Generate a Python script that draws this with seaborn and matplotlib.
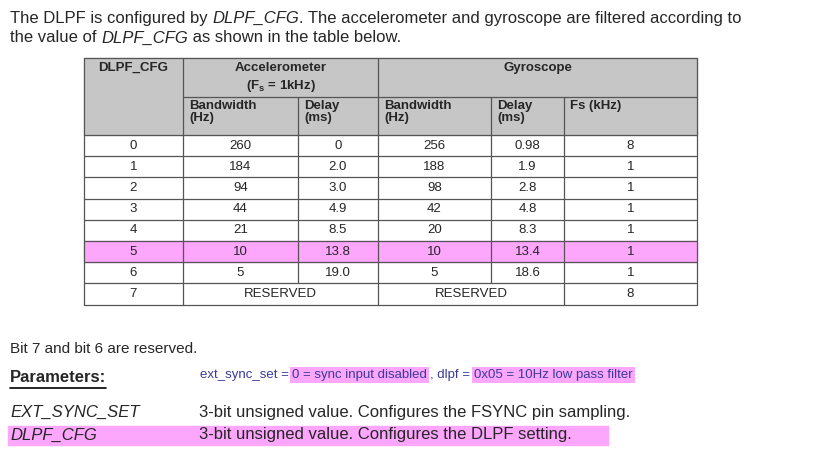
import matplotlib
matplotlib.use("Agg")
import matplotlib.pyplot as plt
import seaborn as sns

dlpf_cfg = ["0", "1", "2", "3", "4", "5", "6", "7"]
acc_bw = ["260", "184", "94", "44", "21", "10", "5", None]
acc_delay = ["0", "2.0", "3.0", "4.9", "8.5", "13.8", "19.0", None]
gyro_bw = ["256", "188", "98", "42", "20", "10", "5", None]
gyro_delay = ["0.98", "1.9", "2.8", "4.8", "8.3", "13.4", "18.6", None]
gyro_fs = ["8", "1", "1", "1", "1", "1", "1", "8"]
highlight_row = 5

sns.set_theme(style="white")
plt.rcParams['font.family'] = ['Liberation Sans', 'DejaVu Sans']

fig = plt.figure(figsize=(8.29, 4.53), dpi=100)
ax = fig.add_axes([0, 0, 1, 1])
ax.set_xlim(0, 829)
ax.set_ylim(453, 0)
ax.axis("off")

PINK = "#fca6fc"
GRAY = "#c6c6c6"
cols = [84, 183, 298, 378, 491, 564, 697]
top, mid, hdr = 58, 97, 135
rh = 21.2
bottom = hdr + rh * len(dlpf_cfg)

# intro text
ax.text(10, 20, "The DLPF is configured by ", fontsize=12, va="center")
intro1 = [("The DLPF is configured by ", "normal"), ("DLPF_CFG", "italic"),
          (". The accelerometer and gyroscope are filtered according to", "normal")]
intro2 = [("the value of ", "normal"), ("DLPF_CFG", "italic"), (" as shown in the table below.", "normal")]
ax.texts[0].remove()
fig.canvas.draw()
r = fig.canvas.get_renderer()
for y, parts in [(18, intro1), (38, intro2)]:
    x = 10
    for s, st in parts:
        t = ax.text(x, y, s, fontsize=12, style=st, va="center")
        bb = t.get_window_extent(r)
        x += bb.width

# header backgrounds
ax.add_patch(plt.Rectangle((cols[0], top), cols[-1] - cols[0], hdr - top, color=GRAY, zorder=0))
hy = hdr + rh * highlight_row
ax.add_patch(plt.Rectangle((cols[0], hy), cols[-1] - cols[0], rh, color=PINK, zorder=0))

lc = dict(color="#555555", lw=0.9)
ax.plot([cols[0], cols[-1]], [top, top], **lc)
ax.plot([cols[1], cols[-1]], [mid, mid], **lc)
for i in range(len(dlpf_cfg) + 1):
    y = hdr + rh * i
    ax.plot([cols[0], cols[-1]], [y, y], **lc)
ax.plot([cols[0], cols[0]], [top, bottom], **lc)
ax.plot([cols[-1], cols[-1]], [top, bottom], **lc)
ax.plot([cols[1], cols[1]], [top, bottom], **lc)
ax.plot([cols[3], cols[3]], [top, bottom], **lc)
for c in [cols[2], cols[4], cols[5]]:
    ax.plot([c, c], [mid, bottom - rh], **lc)
ax.plot([cols[5], cols[5]], [bottom - rh, bottom], **lc)

hf = dict(fontsize=9.5, weight="bold")
ax.text((cols[0] + cols[1]) / 2, 68, "DLPF_CFG", ha="center", va="center", **hf)
ax.text((cols[1] + cols[3]) / 2, 68, "Accelerometer", ha="center", va="center", **hf)
ax.text((cols[1] + cols[3]) / 2, 86, r"(F$_\mathregular{s}$ = 1kHz)", ha="center", va="center", **hf)
ax.text((cols[3] + cols[-1]) / 2, 68, "Gyroscope", ha="center", va="center", **hf)
for c, lab in zip(cols[1:6], ["Bandwidth\n(Hz)", "Delay\n(ms)", "Bandwidth\n(Hz)", "Delay\n(ms)", "Fs (kHz)"]):
    ax.text(c + 6, 100, lab, ha="left", va="top", linespacing=1.05, **hf)

cf = dict(fontsize=9.5, ha="center", va="center")
for i, cfg in enumerate(dlpf_cfg):
    y = hdr + rh * (i + 0.5)
    vals = [cfg, acc_bw[i], acc_delay[i], gyro_bw[i], gyro_delay[i], gyro_fs[i]]
    for j, v in enumerate(vals):
        if v is not None:
            ax.text((cols[j] + cols[j + 1]) / 2, y, v, **cf)
    if acc_bw[i] is None:
        ax.text((cols[1] + cols[3]) / 2, y, "RESERVED", **cf)
        ax.text((cols[3] + cols[5]) / 2, y, "RESERVED", **cf)

# bottom text
ax.text(10, 349, "Bit 7 and bit 6 are reserved.", fontsize=11, va="center")
t = ax.text(10, 378, "Parameters:", fontsize=12, weight="bold", va="center")
bb = t.get_window_extent(r)
ax.plot([10, 10 + bb.width], [388, 388], color="black", lw=1.2)

blue = "#3a3a9a"
x = 200
for s, hl in [("ext_sync_set = ", False), ("0 = sync input disabled", True), (", dlpf = ", False),
              ("0x05 = 10Hz low pass filter", True)]:
    t = ax.text(x, 375, s, fontsize=9.5, color=blue, va="center",
                bbox=dict(facecolor=PINK, edgecolor="none", pad=1.5) if hl else None)
    x += t.get_window_extent(r).width + (3 if hl else 0)

ax.add_patch(plt.Rectangle((8, 426), 600, 19, color=PINK, zorder=0))
ax.text(10, 412, "EXT_SYNC_SET", fontsize=12, style="italic", va="center")
ax.text(199, 412, "3-bit unsigned value. Configures the FSYNC pin sampling.", fontsize=12, va="center")
ax.text(10, 435, "DLPF_CFG", fontsize=12, style="italic", va="center")
ax.text(199, 435, "3-bit unsigned value. Configures the DLPF setting.", fontsize=12, va="center")

fig.savefig("out.png", dpi=100)
